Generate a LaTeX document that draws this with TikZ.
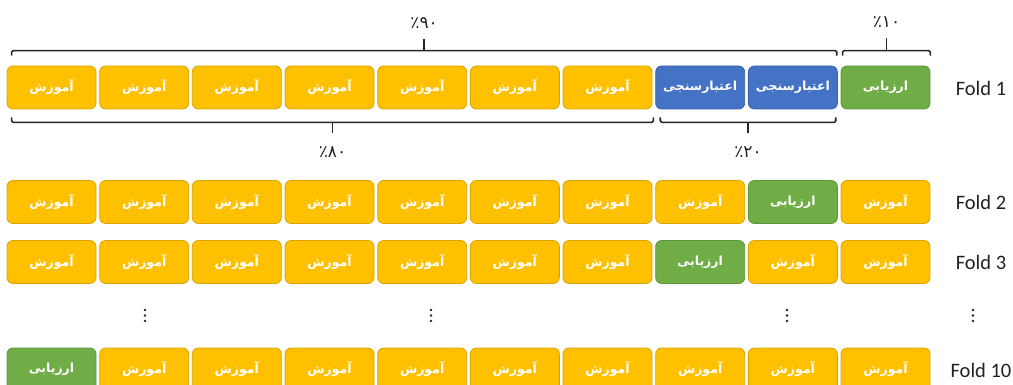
\documentclass[tikz,border=0pt]{standalone}
\usepackage{fontspec}
\setmainfont{Carlito}
\newfontfamily\arabicfont[Script=Arabic]{DejaVu Sans}
\newfontfamily\numfont{DejaVu Sans}
\TeXXeTstate=1
\usetikzlibrary{calc}
\definecolor{yel}{HTML}{FFC000}
\definecolor{yelb}{HTML}{D9A400}
\definecolor{blu}{HTML}{4472C4}
\definecolor{blub}{HTML}{3B63AC}
\definecolor{grn}{HTML}{70AD47}
\definecolor{grnb}{HTML}{5E9639}
\definecolor{lbl}{HTML}{222222}
\newcommand\txttr{\beginR آموزش\endR}
\newcommand\txtva{\beginR اعتبارسنجی\endR}
\newcommand\txtev{\beginR ارزیابی\endR}
\begin{document}
\begin{tikzpicture}[x=1pt,y=-1pt,
  cell/.style={rounded corners=6pt, minimum width=89pt, minimum height=43pt,
    inner sep=0pt, text=white, line width=0.8pt,
    font=\arabicfont\bfseries\fontsize{12.5}{14}\selectfont},
  tr/.style={cell, fill=yel, draw=yelb},
  va/.style={cell, fill=blu, draw=blub},
  ev/.style={cell, fill=grn, draw=grnb},
  brk/.style={line width=1.6pt, draw=black!85, rounded corners=1.5pt},
  tick/.style={line width=1.6pt, draw=black!85},
  pct/.style={font=\numfont\fontsize{17}{19}\selectfont, text=lbl, inner sep=0pt},
  fold/.style={font=\fontsize{20.5}{24}\selectfont, text=lbl, inner sep=0pt},
  dot/.style={fill=black!85}
]
\useasboundingbox (0,0) rectangle (1013,385);
% row 1
\foreach \s [count=\i] in {tr,tr,tr,tr,tr,tr,tr,va,va,ev}
  \node[\s] (a\i) at ({51.5+92.67*(\i-1)},87.5) {\csname txt\s\endcsname};
% row 2
\foreach \s [count=\i] in {tr,tr,tr,tr,tr,tr,tr,tr,ev,tr}
  \node[\s] (b\i) at ({51.5+92.67*(\i-1)},202) {\csname txt\s\endcsname};
% row 3
\foreach \s [count=\i] in {tr,tr,tr,tr,tr,tr,tr,ev,tr,tr}
  \node[\s] (c\i) at ({51.5+92.67*(\i-1)},262) {\csname txt\s\endcsname};
% row 10
\foreach \s [count=\i] in {ev,tr,tr,tr,tr,tr,tr,tr,tr,tr}
  \node[\s] (d\i) at ({51.5+92.67*(\i-1)},369.5) {\csname txt\s\endcsname};

% fold labels
\node[fold] (f1) at (981,88) {Fold 1};
\node[fold] (f2) at (981,202) {Fold 2};
\node[fold] (f3) at (981,262) {Fold 3};
\node[fold] (f10) at (981,370) {Fold 10};

% top brackets
\coordinate (t1a) at ($(a1.north west)+(5,-10)$);
\coordinate (t1b) at ($(a9.north east)+(-1,-10)$);
\draw[brk] (t1a) -- ++(0,-5) -- ($(t1b)+(0,-5)$) -- (t1b);
\coordinate (t1m) at ($(t1a)!0.5!(t1b)+(0,-5)$);
\draw[tick] (t1m) -- ++(0,-12);
\node[pct] (p90) at ($(t1m)+(0,-28)$) {٪۹۰};

\coordinate (t2a) at ($(a10.north west)+(2,-10)$);
\coordinate (t2b) at ($(a10.north east)+(0,-10)$);
\draw[brk] (t2a) -- ++(0,-5) -- ($(t2b)+(0,-5)$) -- (t2b);
\coordinate (t2m) at ($(t2a)!0.5!(t2b)+(0,-5)$);
\draw[tick] (t2m) -- ++(0,-13);
\node[pct] (p10) at ($(t2m)+(0,-28)$) {٪۱۰};

% bottom brackets
\coordinate (u1a) at ($(a1.south west)+(5,8)$);
\coordinate (u1b) at ($(a7.south east)+(1,8)$);
\draw[brk] (u1a) -- ++(0,5) -- ($(u1b)+(0,5)$) -- (u1b);
\coordinate (u1m) at ($(u1a)!0.5!(u1b)+(0,5)$);
\draw[tick] (u1m) -- ++(0,11);
\node[pct] (p80) at ($(u1m)+(0,30)$) {٪۸۰};

\coordinate (u2a) at ($(a8.south west)+(5,8)$);
\coordinate (u2b) at ($(a9.south east)+(-2,8)$);
\draw[brk] (u2a) -- ++(0,5) -- ($(u2b)+(0,5)$) -- (u2b);
\coordinate (u2m) at ($(u2a)!0.5!(u2b)+(0,5)$);
\draw[tick] (u2m) -- ++(0,11);
\node[pct] (p20) at ($(u2m)+(0,30)$) {٪۲۰};

% vertical dots
\foreach \x in {145,431,787,973}
  \foreach \y in {310,315.5,321}
    \fill[dot] (\x,\y) circle (1.4);
\end{tikzpicture}
\end{document}
